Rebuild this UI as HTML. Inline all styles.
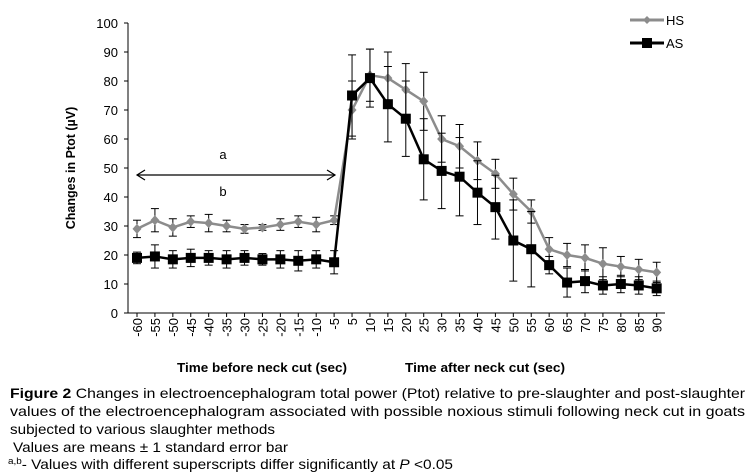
<!DOCTYPE html>
<html><head><meta charset="utf-8"><style>
html,body{margin:0;padding:0;background:#fff;}
svg{display:block;font-family:"Liberation Sans",Arial,sans-serif;}
</style></head><body>
<svg id="chart" width="750" height="476" viewBox="0 0 750 476">
<g id="axes"></g>
<g id="series"></g>
<text x="75" y="168" transform="rotate(-90 75 168)" text-anchor="middle" font-size="12.5" font-weight="bold" fill="#000">Changes in Ptot (µV)</text>
<text x="177" y="372" font-size="12.5" font-weight="bold" textLength="170" lengthAdjust="spacingAndGlyphs">Time before neck cut (sec)</text>
<text x="405" y="372" font-size="12.5" font-weight="bold" textLength="160" lengthAdjust="spacingAndGlyphs">Time after neck cut (sec)</text>
<g>
 <line x1="630" y1="20" x2="664" y2="20" stroke="#8c8c8c" stroke-width="3"/>
 <path d="M647 16 L651 20 L647 24 L643 20Z" fill="#8c8c8c"/>
 <text x="666" y="25" font-size="13">HS</text>
 <line x1="630" y1="43" x2="664" y2="43" stroke="#000" stroke-width="3"/>
 <rect x="642" y="38" width="10" height="10" fill="#000"/>
 <text x="666" y="48" font-size="13">AS</text>
</g>
<g>
 <line x1="137" y1="175" x2="335" y2="175" stroke="#000" stroke-width="1.2"/>
 <path d="M145 170 L137 175 L145 180" fill="none" stroke="#000" stroke-width="1.2"/>
 <path d="M327 170 L335 175 L327 180" fill="none" stroke="#000" stroke-width="1.2"/>
 <text x="223" y="159" font-size="13" text-anchor="middle">a</text>
 <text x="223" y="196" font-size="13" text-anchor="middle">b</text>
</g>
<g font-size="14" fill="#000">
 <text x="10" y="398" textLength="735" lengthAdjust="spacingAndGlyphs"><tspan font-weight="bold">Figure 2</tspan> Changes in electroencephalogram total power (Ptot) relative to pre-slaughter and post-slaughter</text>
 <text x="10" y="416" textLength="735" lengthAdjust="spacingAndGlyphs">values of the electroencephalogram associated with possible noxious stimuli following neck cut in goats</text>
 <text x="10" y="434" textLength="265" lengthAdjust="spacingAndGlyphs">subjected to various slaughter methods</text>
 <text x="13" y="452" textLength="275" lengthAdjust="spacingAndGlyphs">Values are means ± 1 standard error bar</text>
 <text x="8" y="469" textLength="445" lengthAdjust="spacingAndGlyphs"><tspan font-size="9" dy="-5">a,b</tspan><tspan dy="5">- Values with different superscripts differ significantly at </tspan><tspan font-style="italic">P</tspan> &lt;0.05</text>
</g>
</svg>
<script>
const categories=[-60,-55,-50,-45,-40,-35,-30,-25,-20,-15,-10,-5,5,10,15,20,25,30,35,40,45,50,55,60,65,70,75,80,85,90];
const hsValues=[29,32,29.5,31.5,31,30,29,29.5,30.5,31.5,30.5,32,70,82,81,77,73,60,57.5,52.5,48,41,35,22,20,19,17,16,15,14];
const hsErrors=[3,4,3,2,3,2,1.5,1,2,2,2.5,1.5,10,9,9,9,10,8,7.5,6.5,5,5.5,4,4,4,4.5,5.5,3.5,3.5,3.5];
const asValues=[19,19.5,18.5,19,19,18.5,19,18.5,18.5,18,18.5,17.5,75,81,72,67,53,49,47,41.5,36.5,25,22,16.5,10.5,11,9.5,10,9.5,8.5];
const asErrors=[2,4,3,3,2.5,3,2.5,2,3,3.5,3,4,14,10,13,13,14,13,13.5,11,11,14,13,3,5,4,3,3,3,2.5];
const yTicks=[0,10,20,30,40,50,60,70,80,90,100];
const NS='http://www.w3.org/2000/svg';
const x0=137,dx=17.92,yBase=313,pxPer=2.9;
function xs(i){return x0+i*dx;}
function ys(v){return yBase-v*pxPer;}
function mk(tag,attrs,parent){const e=document.createElementNS(NS,tag);for(const k in attrs)e.setAttribute(k,attrs[k]);parent.appendChild(e);return e;}
const axes=document.getElementById('axes'),ser=document.getElementById('series');
let yl=mk('line',{x1:128,y1:ys(100),x2:128,y2:yBase,stroke:'#000','stroke-width':1},axes);


let xl=mk('line',{x1:128,y1:yBase,x2:665,y2:yBase,stroke:'#000','stroke-width':1},axes);


yTicks.forEach(t=>{
 mk('line',{x1:124,y1:ys(t),x2:128,y2:ys(t),stroke:'#000'},axes);
 const tx=mk('text',{x:118,y:ys(t)+5,'text-anchor':'end','font-size':13},axes);tx.textContent=t;
 
 
});
categories.forEach((c,i)=>{
 const x=xs(i);
 mk('line',{x1:x,y1:yBase,x2:x,y2:yBase+4,stroke:'#000'},axes);
 const tx=mk('text',{x:x+5,y:318,'text-anchor':'end','font-size':13,transform:`rotate(-90 ${x+5} 318)`},axes);tx.textContent=c;
 
 
});
function draw(vals,errs,color,name,marker){
 const g=mk('g',{},ser);
 
 
 vals.forEach((v,i)=>{
  const x=xs(i);
  mk('line',{x1:x,y1:ys(v+errs[i]),x2:x,y2:ys(v-errs[i]),stroke:'#000','stroke-width':1},g);
  mk('line',{x1:x-4,y1:ys(v+errs[i]),x2:x+4,y2:ys(v+errs[i]),stroke:'#000','stroke-width':1},g);
  mk('line',{x1:x-4,y1:ys(v-errs[i]),x2:x+4,y2:ys(v-errs[i]),stroke:'#000','stroke-width':1},g);
 });
 mk('polyline',{points:vals.map((v,i)=>xs(i)+','+ys(v)).join(' '),fill:'none',stroke:color,'stroke-width':2.5},g);
 vals.forEach((v,i)=>{
  const x=xs(i),y=ys(v);let m;
  if(marker==='sq')m=mk('rect',{x:x-5,y:y-5,width:10,height:10,fill:color},g);
  else m=mk('path',{d:`M${x} ${y-5}L${x+4.5} ${y}L${x} ${y+5}L${x-4.5} ${y}Z`,fill:color},g);
  
  
 });
}
draw(hsValues,hsErrors,'#8c8c8c','hs','dia');
draw(asValues,asErrors,'#000','as','sq');
</script>
</body></html>
